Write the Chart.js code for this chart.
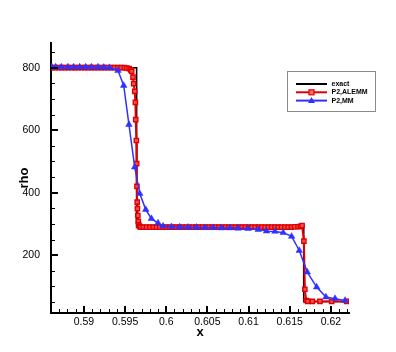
<!DOCTYPE html>
<html>
<head>
<meta charset="utf-8">
<script src="https://cdn.jsdelivr.net/npm/chart.js@4.4.1/dist/chart.umd.min.js"></script>
<style>
  body { margin: 0; background: #fff; }
  canvas { display: block; }
</style>
</head>
<body>
<canvas id="chart1" width="396" height="352"></canvas>
<script>
// exact solution
const exactX = [0.586, 0.5964, 0.5964, 0.6167, 0.6167, 0.6222];
const exactY = [800, 800, 290, 290, 52, 52];

// P2,ALEMM (red squares)
const alemmX = [
  0.5861, 0.5865, 0.5869, 0.5873, 0.5877, 0.5881, 0.5885, 0.5889, 0.5893, 0.5897,
  0.5901, 0.5905, 0.5909, 0.5913, 0.5917, 0.5921, 0.5925, 0.5929, 0.5933, 0.5937,
  0.5941, 0.5945, 0.5949, 0.5952, 0.5955, 0.5957, 0.5958,
  0.59596, 0.59604, 0.59617, 0.59625, 0.59629, 0.59637, 0.59641, 0.59644,
  0.59647, 0.59650, 0.59655, 0.59660, 0.59666, 0.59675, 0.5969,
  0.5972, 0.5976, 0.5980, 0.5984, 0.5988, 0.5992, 0.5996, 0.6000, 0.6004, 0.6008,
  0.6012, 0.6016, 0.6020, 0.6024, 0.6028, 0.6032, 0.6036, 0.6040, 0.6044, 0.6048,
  0.6052, 0.6056, 0.6060, 0.6064, 0.6068, 0.6072, 0.6076, 0.6080, 0.6084, 0.6088,
  0.6092, 0.6096, 0.6100, 0.6104, 0.6108, 0.6112, 0.6116, 0.6120, 0.6124, 0.6128,
  0.6132, 0.6136, 0.6140, 0.6144, 0.6148, 0.6152, 0.6156, 0.6160, 0.6163, 0.6165,
  0.61672, 0.61684, 0.61700, 0.61720, 0.61775, 0.61867, 0.62009, 0.62191
];
const alemmY = [
  800, 800, 800, 800, 800, 800, 800, 800, 800, 800,
  800, 800, 800, 800, 800, 800, 800, 800, 800, 800,
  800, 800, 800, 799, 797, 793, 788,
  770, 749, 724, 689, 634, 567, 493, 420,
  370, 349, 327, 308, 297, 292, 290,
  290, 290, 290, 290, 290, 290, 290, 290, 290, 290,
  290, 290, 290, 290, 290, 290, 290, 290, 290, 290,
  290, 290, 290, 290, 290, 290, 290, 290, 290, 290,
  290, 290, 290, 290, 290, 290, 290, 290, 290, 290,
  290, 290, 290, 290, 290, 290, 291, 291, 292, 295,
  245, 91, 55, 52, 52, 52, 52, 52
];

// P2,MM (blue triangles)
const mmX = [
  0.5861, 0.58656, 0.58725, 0.58805, 0.58875, 0.58948, 0.59021, 0.59091, 0.59171, 0.59241,
  0.59312, 0.59414, 0.59483, 0.59547, 0.59617, 0.59678, 0.59751, 0.5982, 0.599, 0.59961,
  0.60063, 0.60164, 0.60265, 0.60367, 0.60468, 0.60569, 0.60671, 0.60772, 0.60873, 0.60995,
  0.61117, 0.61219, 0.6132, 0.61421, 0.61523, 0.61616, 0.61713, 0.61827, 0.6194, 0.6205,
  0.62172
];
const mmY = [
  802, 802, 802, 802, 802, 802, 802, 802, 802, 801,
  800, 791, 743, 618, 482, 397, 346, 317, 303, 293,
  291, 290, 289, 289, 288, 288, 287, 287, 286, 285,
  282, 277, 276, 272, 260, 215, 146, 98, 66, 61,
  55
];

const xTickLabels = [0.59, 0.595, 0.6, 0.605, 0.61, 0.615, 0.62];
const yTickLabels = [200, 400, 600, 800];

function pts(xs, ys) {
  return xs.map((x, i) => ({ x: x, y: ys[i] }));
}

const legendItems = [
  { label: "exact", color: "#000000", marker: null },
  { label: "P2,ALEMM", color: "#e00000", marker: "rect" },
  { label: "P2,MM", color: "#3030ff", marker: "triangle" }
];

// inward ticks, Tecplot style
const innerTicks = {
  id: "innerTicks",
  afterDraw: function (chart) {
    const ctx = chart.ctx;
    const xs = chart.scales.x;
    const ys = chart.scales.y;
    const a = chart.chartArea;
    ctx.save();
    ctx.strokeStyle = "#000";
    ctx.lineWidth = 1;
    for (let k = 586; k <= 622; k++) {
      const px = Math.round(xs.getPixelForValue(k / 1000)) + 0.5;
      ctx.beginPath();
      ctx.moveTo(px, a.bottom);
      ctx.lineTo(px, a.bottom - 4);
      ctx.stroke();
    }
    for (let v = 50; v <= 850; v += 50) {
      const py = Math.round(ys.getPixelForValue(v)) + 0.5;
      ctx.beginPath();
      ctx.moveTo(a.left, py);
      ctx.lineTo(a.left + 4, py);
      ctx.stroke();
    }
    ctx.lineWidth = 2;
    xTickLabels.forEach(function (v) {
      const px = Math.round(xs.getPixelForValue(v));
      ctx.beginPath();
      ctx.moveTo(px, a.bottom);
      ctx.lineTo(px, a.bottom - 7);
      ctx.stroke();
    });
    yTickLabels.forEach(function (v) {
      const py = Math.round(ys.getPixelForValue(v));
      ctx.beginPath();
      ctx.moveTo(a.left, py);
      ctx.lineTo(a.left + 7, py);
      ctx.stroke();
    });
    ctx.restore();
  }
};

const boxLegend = {
  id: "boxLegend",
  afterDraw: function (chart) {
    const ctx = chart.ctx;
    ctx.save();
    ctx.fillStyle = "#fff";
    ctx.fillRect(287.5, 71.5, 88, 40);
    ctx.strokeStyle = "#8a8a8a";
    ctx.lineWidth = 1;
    ctx.strokeRect(287.5, 71.5, 88, 40);
    ctx.font = "bold 7px 'Liberation Sans', Arial, sans-serif";
    ctx.textBaseline = "middle";
    legendItems.forEach(function (it, i) {
      const y = 84 + i * 8.3;
      ctx.strokeStyle = it.color;
      ctx.lineWidth = 2;
      ctx.beginPath();
      ctx.moveTo(296, y);
      ctx.lineTo(327, y);
      ctx.stroke();
      if (it.marker === "rect") {
        ctx.fillStyle = "#f07070";
        ctx.fillRect(309, y - 2.5, 5, 5);
        ctx.lineWidth = 1.2;
        ctx.strokeRect(309, y - 2.5, 5, 5);
      } else if (it.marker === "triangle") {
        ctx.fillStyle = it.color;
        ctx.beginPath();
        ctx.moveTo(311.5, y - 3.5);
        ctx.lineTo(315, y + 2.5);
        ctx.lineTo(308, y + 2.5);
        ctx.closePath();
        ctx.fill();
      }
      ctx.fillStyle = "#000";
      ctx.fillText(it.label, 331.5, y);
    });
    ctx.restore();
  }
};

new Chart(document.getElementById("chart1"), {
  type: "scatter",
  data: {
    datasets: [
      {
        label: "P2,MM",
        data: pts(mmX, mmY),
        showLine: true,
        borderColor: "#3030ff",
        backgroundColor: "#3030ff",
        borderWidth: 1.5,
        pointStyle: "triangle",
        pointRadius: 3.8,
        pointBorderWidth: 0.5
      },
      {
        label: "P2,ALEMM",
        data: pts(alemmX, alemmY),
        showLine: true,
        borderColor: "#e00000",
        backgroundColor: "rgba(235,90,90,0.85)",
        borderWidth: 2,
        pointStyle: "rect",
        pointRadius: 3,
        pointBorderWidth: 1.4
      },
      {
        label: "exact",
        data: pts(exactX, exactY),
        showLine: true,
        borderColor: "#000",
        borderWidth: 1.6,
        pointRadius: 0
      }
    ]
  },
  options: {
    responsive: false,
    animation: false,
    layout: { padding: { left: 0, right: 47, top: 43, bottom: 0 } },
    plugins: {
      legend: { display: false },
      tooltip: { enabled: false }
    },
    scales: {
      x: {
        type: "linear",
        min: 0.586,
        max: 0.6222,
        grid: { display: false },
        border: { display: true, color: "#000", width: 2 },
        afterBuildTicks: function (scale) {
          scale.ticks = xTickLabels.map(v => ({ value: v }));
        },
        afterFit: function (scale) { scale.height = 39; },
        ticks: {
          padding: -5,
          color: "#000",
          font: { family: "'Liberation Sans', Arial", size: 10.5 },
          callback: function (v) { return String(v); }
        },
        title: {
          display: true,
          text: "x",
          color: "#000",
          font: { family: "'Liberation Sans', Arial", size: 13, weight: "bold" },
          padding: { top: 0, bottom: 12 }
        }
      },
      y: {
        type: "linear",
        min: 15,
        max: 879,
        grid: { display: false },
        border: { display: true, color: "#000", width: 2 },
        afterBuildTicks: function (scale) {
          scale.ticks = yTickLabels.map(v => ({ value: v }));
        },
        afterFit: function (scale) { scale.width = 51; },
        ticks: {
          padding: 3,
          color: "#000",
          font: { family: "'Liberation Sans', Arial", size: 10.5 }
        },
        title: {
          display: true,
          text: "rho",
          color: "#000",
          font: { family: "'Liberation Sans', Arial", size: 13, weight: "bold" },
          padding: { top: 17, bottom: 0 }
        }
      }
    }
  },
  plugins: [innerTicks, boxLegend]
});
</script>
</body>
</html>
